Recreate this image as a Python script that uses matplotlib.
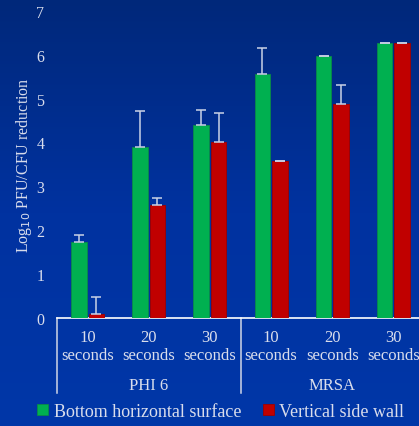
import matplotlib.pyplot as plt
import numpy as np
from matplotlib.colors import LinearSegmentedColormap

# log10 reductions per exposure time, PHI 6 then MRSA
times = ["10\nseconds", "20\nseconds", "30\nseconds",
         "10\nseconds", "20\nseconds", "30\nseconds"]
organisms = ["PHI 6", "MRSA"]
bottom_vals = [1.72, 3.89, 4.39, 5.56, 5.97, 6.27]
bottom_err = [0.16, 0.82, 0.35, 0.59, 0.0, 0.0]
side_vals = [0.08, 2.57, 4.00, 3.58, 4.87, 6.27]
side_err = [0.39, 0.17, 0.67, 0.0, 0.44, 0.0]

txt = "#d9ddec"
plt.rcParams["font.family"] = ["Liberation Serif", "DejaVu Serif"]

fig = plt.figure(figsize=(4.19, 4.27), dpi=100)

# blue gradient backdrop
bg = fig.add_axes([0, 0, 1, 1], zorder=-10)
grad = np.linspace(0, 1, 256).reshape(-1, 1)
cmap = LinearSegmentedColormap.from_list("bg", ["#00287a", "#0032a0", "#0037a8"])
bg.imshow(grad, aspect="auto", cmap=cmap, extent=[0, 1, 0, 1])
bg.axis("off")

ax = fig.add_axes([0.136, 0.254, 0.876, 0.718])
ax.patch.set_alpha(0)

x = np.arange(len(times))
w = 0.253
off = 0.143
ekw = dict(ecolor="#c9d2e6", elinewidth=1.1, capsize=3.5, capthick=1.1)
ax.bar(x - off, bottom_vals, w, color="#00b050", edgecolor="#0a8a48", linewidth=0.6,
       yerr=[np.zeros(6), bottom_err], error_kw=ekw,
       label="Bottom horizontal surface", zorder=3)
ax.bar(x + off, side_vals, w, color="#c00000", edgecolor="#a00000", linewidth=0.6,
       yerr=[np.zeros(6), side_err], error_kw=ekw,
       label="Vertical side wall", zorder=3)

ax.set_xlim(-0.5, 5.5)
ax.set_ylim(0, 7)
ax.set_yticks(range(8))
ax.tick_params(axis="y", length=0, colors=txt, labelsize=11.5, pad=9)
ax.set_xticks([])
for s in ["top", "right", "left"]:
    ax.spines[s].set_visible(False)
ax.spines["bottom"].set_color("white")
ax.spines["bottom"].set_linewidth(1.2)

ax.set_ylabel("Log$_{10}$ PFU/CFU reduction", color=txt, fontsize=11.5, labelpad=2)

# category labels and group labels under the axis
for i, t in enumerate(times):
    ax.text(i, -0.27, t, ha="center", va="top", color=txt, fontsize=12,
            linespacing=1.1)
for j, g in enumerate(organisms):
    ax.text(3 * j + 1, -1.36, g, ha="center", va="top", color=txt, fontsize=12)
for xd in [-0.5, 2.5]:
    ax.plot([xd, xd], [0, -1.72], color="#d0d6e6", lw=1.1, clip_on=False)

fig.legend(loc="lower center", bbox_to_anchor=(0.527, -0.024), ncol=2,
           frameon=False, fontsize=13, handlelength=0.6, handleheight=0.6,
           handletextpad=0.3, columnspacing=1.2, labelcolor=txt)

fig.savefig("out.png", dpi=100)
